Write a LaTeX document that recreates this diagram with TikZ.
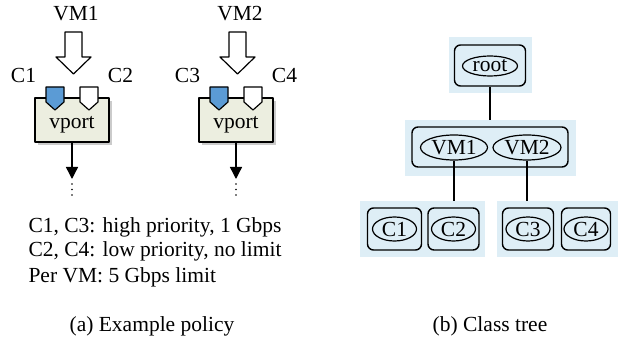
\documentclass[tikz,border=0pt]{standalone}
\usepackage{fontspec}
\setmainfont{Liberation Serif}
\usetikzlibrary{shapes.geometric,arrows.meta,shadows}
\definecolor{portfill}{HTML}{ECEEE0}
\definecolor{classblue}{HTML}{5B9BD5}
\definecolor{treebg}{HTML}{DEEEF6}
\tikzset{
  portbox/.style={draw, line width=1.4pt, fill=portfill, minimum width=74pt, minimum height=44pt,
    drop shadow={shadow xshift=3pt, shadow yshift=-3pt, fill=black!45, opacity=.45}},
  bgbox/.style={fill=treebg, inner sep=0pt, minimum height=56pt},
  classbox/.style={draw, line width=1.4pt, rounded corners=6pt, inner sep=0pt, minimum height=42pt},
  classell/.style={draw, ellipse, line width=1.2pt, inner sep=0pt, minimum height=24pt, minimum width=44pt},
  treeline/.style={draw, line width=1.6pt},
}
\begin{document}
\begin{tikzpicture}[x=1pt, y=-1pt, font=\fontsize{21.5}{24}\selectfont, line join=round, >={Triangle[width=12pt,length=12pt]}]
            \useasboundingbox (0,0) rectangle (618,339);
            \def\gap{164}
            % (a) example policy
            \foreach \dx/\vm/\ca/\cb in {0/VM1/C1/C2,\gap/VM2/C3/C4}{
              \node[anchor=base] (lab\vm) at (76+\dx,21) {\vm};
              \draw[line width=1.2pt, fill=white] (65+\dx,32)--(82+\dx,32)--(82+\dx,57)--(91+\dx,57)--(73.5+\dx,74)--(56+\dx,57)--(65+\dx,57)--cycle;
              \node[portbox] (port\vm) at (72+\dx,120) {};
              \node[anchor=base] (txt\vm) at (72+\dx,129) {vport};
              \draw[line width=1.2pt, fill=classblue] (46+\dx,87)--(64+\dx,87)--(64+\dx,102)--(55+\dx,110)--(46+\dx,102)--cycle;
              \draw[line width=1.2pt, fill=white] (80+\dx,87)--(98+\dx,87)--(98+\dx,102)--(89+\dx,110)--(80+\dx,102)--cycle;
              \node[anchor=base] (lab\ca) at (23.5+\dx,83) {\ca};
              \node[anchor=base] (lab\cb) at (120.5+\dx,83) {\cb};
              \coordinate (end\vm) at (72+\dx,179);
              \draw[->, line width=1.4pt] (port\vm.south) -- (end\vm);
              \foreach \k in {0,1,2}\fill (72+\dx,184+5.5*\k) circle (0.9pt);
            }
            \node[anchor=base west] (pol1) at (25,233) {C1, C3: high priority, 1 Gbps};
            \node[anchor=base west] (pol2) at (25,256) {C2, C4: low priority, no limit};
            \node[anchor=base west] (pol3) at (25,282) {Per VM: 5 Gbps limit};
            \node[anchor=base] (capa) at (152,331) {(a) Example policy};
            % (b) class tree
            \node[bgbox, minimum width=83pt] (rootbg) at (490.5,65) {};
            \node[bgbox, minimum width=171pt] (vmbg) at (490.5,148) {};
            \node[bgbox, minimum width=125pt] (lowbgA) at (422.5,229) {};
            \node[bgbox, minimum width=121pt] (lowbgB) at (557.5,229) {};
            \node[classbox, minimum width=71pt, minimum height=41pt] (rootbox) at (490,65.5) {};
            \node[classell, minimum width=55pt, minimum height=20pt] (root) at (490,66) {root};
            \node[classbox, minimum width=156pt, minimum height=40pt] (vmbox) at (490,147) {};
            \node[classell, minimum width=67pt, minimum height=25pt] (VM1) at (454,147.5) {VM1};
            \node[classell, minimum width=68pt, minimum height=25pt] (VM2) at (527,147.5) {VM2};
            \foreach \c/\x/\w in {C1/394.5/54,C2/453.5/51,C3/528/51,C4/586/49}{
              \node[classbox, minimum width=\w pt] (box\c) at (\x,229) {};
              \node[classell] (\c) at (\x,229) {\c};
            }
            \path[treeline] (rootbox.south) -- (rootbox.south |- vmbg.north);
            \path[treeline] (VM1.south) -- (VM1.south |- lowbgA.north);
            \path[treeline] (VM2.south) -- (VM2.south |- lowbgB.north);
            \node[anchor=base] (capb) at (490,331) {(b) Class tree};
        \end{tikzpicture}
\end{document}
